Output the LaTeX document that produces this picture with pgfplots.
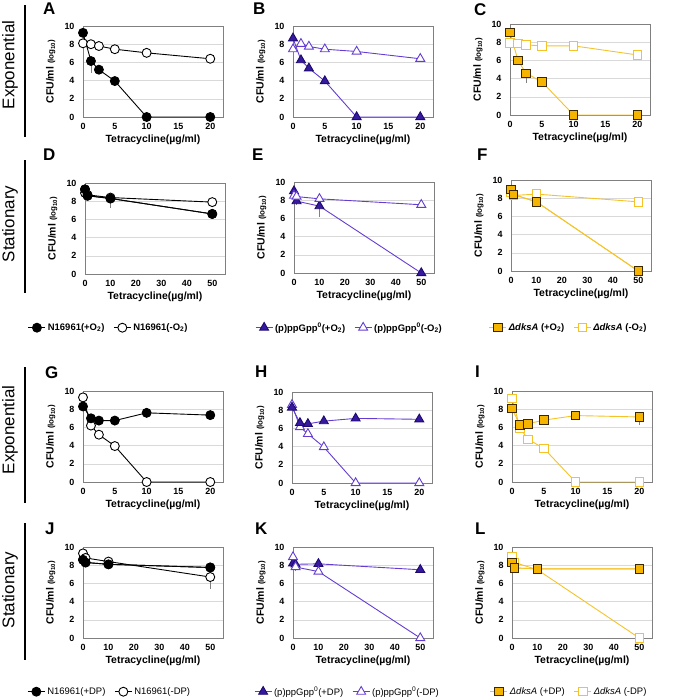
\documentclass[border=0pt]{standalone}
\usepackage{pgfplots}
\pgfplotsset{compat=1.18}
\usepackage{fontspec}
\setmainfont{Liberation Sans}
\definecolor{pfill}{RGB}{55,25,160}
\definecolor{pdark}{RGB}{30,10,110}
\definecolor{pline}{RGB}{100,60,210}
\definecolor{gfill}{RGB}{245,180,0}
\definecolor{gline}{RGB}{245,195,40}
\definecolor{sqedge}{RGB}{60,40,0}
\definecolor{gridc}{RGB}{217,217,217}
\definecolor{boxc}{RGB}{128,128,128}
\pgfplotsset{
 panel/.style={scale only axis, width=140bp, height=91bp, ymin=0, ymax=10, ytick={0,2,...,10},
  ymajorgrids, grid style={gridc, line width=0.6pt}, axis line style={boxc, line width=0.7pt},
  major tick length=0pt, clip=false,
  ticklabel style={font=\fontsize{9}{9}\selectfont\bfseries},
  /pgf/number format/assume math mode=true,
  xticklabel style={yshift=-3bp}, yticklabel style={xshift=-5bp},
  xlabel={Tetracycline(µg/ml)},
  ylabel={\fontsize{10.5}{11}\selectfont\bfseries CFU/ml \fontsize{8}{8}\selectfont(log\textsubscript{10})},
  xlabel style={at={(axis description cs:0.5,-0.25)}, anchor=center, font=\fontsize{10.5}{11}\selectfont\bfseries},
  ylabel style={at={(axis description cs:-0.23,0.5)}, anchor=center},
  legend cell align=left,
  legend style={draw=none, fill=none, legend columns=2, font=\fontsize{9.5}{10}\selectfont\bfseries,
    /tikz/every even column/.append style={column sep=7bp}},
 },
 exppanel/.style={panel, xmin=0, xmax=22, xtick={0,5,10,15,20}},
 statpanel/.style={panel, xmin=0, xmax=55, xtick={0,10,...,50}},
 circF/.style={black, line width=0.9pt, mark=*, mark size=4.5pt, mark options={solid, fill=black, draw=black}},
 circO/.style={black, line width=0.9pt, mark=*, mark size=4.5pt, mark options={solid, fill=white, draw=black}},
 triF/.style={pline, line width=0.9pt, mark=triangle*, mark size=5.2pt, mark options={solid, fill=pfill, draw=pdark}},
 triO/.style={pline, line width=0.9pt, mark=triangle*, mark size=5.2pt, mark options={solid, fill=white, draw=pline}},
 sqF/.style={gline, line width=0.9pt, mark=square*, mark size=4.2pt, mark options={solid, fill=gfill, draw=sqedge}},
 sqO/.style={gline, line width=0.9pt, mark=square*, mark size=4.2pt, mark options={solid, fill=white, draw=gline}},
 errb/.style={forget plot, only marks, mark=none, error bars/.cd, y dir=minus, y explicit, error mark=none,
   error bar style={gray, line width=0.8pt}},
}
\begin{document}
\begin{tikzpicture}
\useasboundingbox (0,0) rectangle (683bp,-697bp);
% row labels
\draw[line width=1.8pt] (25bp,-5bp) -- (25bp,-137bp);
\draw[line width=1.8pt] (25bp,-160bp) -- (25bp,-293bp);
\draw[line width=1.8pt] (25bp,-367bp) -- (25bp,-503bp);
\draw[line width=1.8pt] (25bp,-523bp) -- (25bp,-660bp);
\node[rotate=90, font=\fontsize{17}{17}\selectfont] at (10bp,-65bp) {Exponential};
\node[rotate=90, font=\fontsize{17}{17}\selectfont] at (10bp,-224bp) {Stationary};
\node[rotate=90, font=\fontsize{17}{17}\selectfont] at (10bp,-430bp) {Exponential};
\node[rotate=90, font=\fontsize{17}{17}\selectfont] at (10bp,-590bp) {Stationary};
% panel letters
\foreach \L/\X/\Y in {A/43/3,B/253/3,C/474/3,D/43/149,E/252/149,F/477/149,G/45/366,H/255/366,I/475/366,J/45/523,K/255/523,L/475/523}
  \node[anchor=north west, inner sep=0pt, font=\fontsize{17}{17}\selectfont\bfseries] at (\X bp,-\Y bp) {\L};

% A
\begin{axis}[exppanel, at={(83bp,-117bp)}, anchor=south west]
\addplot[errb] coordinates {(1.25,6.15) -= (0,1.3)};
\addplot[circO] coordinates {(0,8.1)(1.25,8.0)(2.5,7.8)(5,7.45)(10,7.05)(20,6.4)};
\addplot[circF] coordinates {(0,9.25)(1.25,6.15)(2.5,5.2)(5,3.95)(10,0)(20,0)};
\end{axis}
% B
\begin{axis}[exppanel, at={(293bp,-117bp)}, anchor=south west]
\addplot[triO] coordinates {(0,7.45)(1.25,8.05)(2.5,7.75)(5,7.45)(10,7.2)(20,6.4)};
\addplot[triF] coordinates {(0,8.65)(1.25,6.25)(2.5,5.35)(5,3.95)(10,0)(20,0)};
\end{axis}
% C
\begin{axis}[exppanel, at={(510bp,-115bp)}, anchor=south west]
\addplot[errb] coordinates {(2.5,4.6) -= (0,1.1) (5,7.6) -= (0,0.35)};
\addplot[sqO] coordinates {(0,7.9)(1.25,7.85)(2.5,7.7)(5,7.6)(10,7.6)(20,6.6)};
\addplot[sqF] coordinates {(0,9.1)(1.25,6.0)(2.5,4.6)(5,3.65)(10,0)(20,0)};
\end{axis}
% D
\begin{axis}[statpanel, at={(85bp,-274bp)}, anchor=south west,
  legend style={at={(-0.43,-0.59)}, anchor=west}]
\addplot[errb] coordinates {(10,8.3) -= (0,1.1)};
\addplot[circF] coordinates {(0,9.3)(1,8.6)(10,8.3)(50,6.6)};
\addlegendentry{N16961(+O\textsubscript{2})}
\addplot[circO] coordinates {(0,8.9)(1,8.7)(10,8.4)(50,7.9)};
\addlegendentry{N16961(-O\textsubscript{2})}
\addplot[circF, forget plot] coordinates {(0,9.3)(1,8.6)(10,8.3)(50,6.6)};
\end{axis}
% E
\begin{axis}[statpanel, at={(294bp,-273bp)}, anchor=south west,
  legend style={at={(-0.30,-0.60)}, anchor=west}]
\addplot[errb] coordinates {(10,7.35) -= (0,1.15) (1,7.9) -= (0,0.4)};
\addplot[triF] coordinates {(0,9.0)(1,7.9)(10,7.35)(50,0)};
\addlegendentry{(p)ppGpp\textsuperscript{0}(+O\textsubscript{2})}
\addplot[triO] coordinates {(0,8.5)(1,8.4)(10,8.15)(50,7.5)};
\addlegendentry{(p)ppGpp\textsuperscript{0}(-O\textsubscript{2})}
\end{axis}
% F
\begin{axis}[statpanel, at={(511bp,-271bp)}, anchor=south west,
  legend style={at={(-0.18,-0.62)}, anchor=west}]
\addplot[sqF] coordinates {(0,8.95)(1,8.4)(10,7.6)(50,0)};
\addlegendentry{{\itshape ΔdksA} (+O\textsubscript{2})}
\addplot[sqO] coordinates {(0,8.6)(1,8.3)(10,8.45)(50,7.6)};
\addlegendentry{{\itshape ΔdksA} (-O\textsubscript{2})}
\addplot[sqF, forget plot] coordinates {(0,8.95)(1,8.4)(10,7.6)(50,0)};
\end{axis}
% G
\begin{axis}[exppanel, at={(83bp,-482bp)}, anchor=south west]
\addplot[circO] coordinates {(0,9.3)(1.25,6.2)(2.5,5.2)(5,3.95)(10,0)(20,0)};
\addplot[circF] coordinates {(0,8.3)(1.25,7.0)(2.5,6.75)(5,6.75)(10,7.6)(20,7.35)};
\end{axis}
% H
\begin{axis}[exppanel, at={(292bp,-483bp)}, anchor=south west]
\addplot[triO] coordinates {(0,8.6)(1.25,6.15)(2.5,5.4)(5,3.95)(10,0)(20,0)};
\addplot[triF] coordinates {(0,8.3)(1.25,6.6)(2.5,6.5)(5,6.8)(10,7.1)(20,7.0)};
\end{axis}
% I
\begin{axis}[exppanel, at={(512bp,-482bp)}, anchor=south west]
\addplot[errb] coordinates {(20,7.15) -= (0,0.9) (5,6.8) -= (0,0.4)};
\addplot[sqO] coordinates {(0,9.2)(1.25,5.95)(2.5,4.7)(5,3.7)(10,0)(20,0)};
\addplot[sqF] coordinates {(0,8.05)(1.25,6.25)(2.5,6.4)(5,6.8)(10,7.3)(20,7.15)};
\end{axis}
% J
\begin{axis}[statpanel, at={(83bp,-638bp)}, anchor=south west,
  legend style={at={(-0.42,-0.59)}, anchor=west, font=\fontsize{9.5}{10}\selectfont}]
\addplot[errb] coordinates {(50,6.7) -= (0,1.3)};
\addplot[circF] coordinates {(0,8.6)(1,8.3)(10,8.1)(50,7.75)};
\addlegendentry{N16961(+DP)}
\addplot[circO] coordinates {(0,9.3)(1,8.8)(10,8.4)(50,6.7)};
\addlegendentry{N16961(-DP)}
\addplot[circF, forget plot] coordinates {(0,8.6)(1,8.3)(10,8.1)(50,7.75)};
\end{axis}
% K
\begin{axis}[statpanel, at={(293bp,-638bp)}, anchor=south west,
  legend style={at={(-0.30,-0.59)}, anchor=west, font=\fontsize{9.5}{10}\selectfont}]
\addplot[errb] coordinates {(1,7.8) -= (0,0.4)};
\addplot[triF] coordinates {(0,8.2)(1,8.1)(10,8.15)(50,7.5)};
\addlegendentry{(p)ppGpp\textsuperscript{0}(+DP)}
\addplot[triO] coordinates {(0,8.9)(1,7.8)(10,7.3)(50,0)};
\addlegendentry{(p)ppGpp\textsuperscript{0}(-DP)}
\end{axis}
% L
\begin{axis}[statpanel, at={(512bp,-638bp)}, anchor=south west,
  legend style={at={(-0.18,-0.59)}, anchor=west, font=\fontsize{9.5}{10}\selectfont}]
\addplot[errb] coordinates {(1,7.7) -= (0,0.5)};
\addplot[sqF] coordinates {(0,8.3)(1,7.7)(10,7.6)(50,7.6)};
\addlegendentry{{\itshape ΔdksA} (+DP)}
\addplot[sqO] coordinates {(0,8.9)(1,8.3)(10,7.5)(50,0)};
\addlegendentry{{\itshape ΔdksA} (-DP)}
\addplot[sqF, forget plot] coordinates {(0,8.3)(1,7.7)(10,7.6)(50,7.6)};
\end{axis}
\end{tikzpicture}
\end{document}
